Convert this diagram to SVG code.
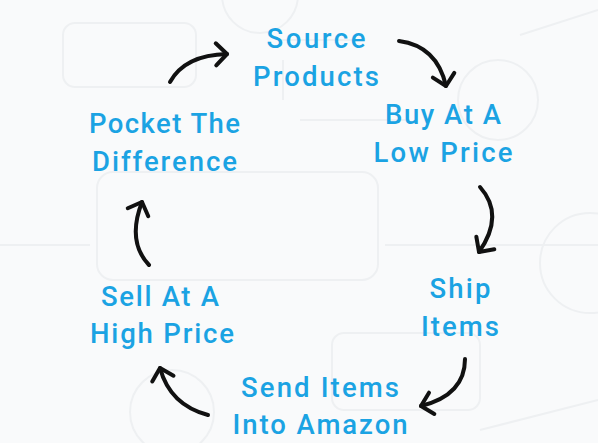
<svg xmlns="http://www.w3.org/2000/svg" width="598" height="443" viewBox="0 0 598 443">
<style>
.bgs{fill:none;stroke:#eef0f2;stroke-width:2}
.lbl{font-family:Roboto,"Liberation Sans",sans-serif;font-weight:500;font-size:27.5px;fill:#1ba3e3;text-anchor:middle}
.arr{fill:none;stroke:#111;stroke-width:4;stroke-linecap:round;stroke-linejoin:round}
</style>
<defs>
<marker id="chev" markerUnits="userSpaceOnUse" markerWidth="40" markerHeight="40" refX="20" refY="20" orient="auto" overflow="visible">
<path d="M9,9 L20,20 L9,31" fill="none" stroke="#111" stroke-width="4" stroke-linecap="round" stroke-linejoin="round"/>
</marker>
</defs>
<rect width="598" height="443" fill="#f9fafb"/>
<g id="background">
<rect class="bgs" x="63" y="23" width="133" height="64" rx="12"/>
<rect class="bgs" x="97" y="172" width="281" height="108" rx="16"/>
<rect class="bgs" x="332" y="333" width="148" height="77" rx="12"/>
<circle class="bgs" cx="260" cy="-5" r="38"/>
<circle class="bgs" cx="498" cy="100" r="40"/>
<circle class="bgs" cx="590" cy="263" r="50"/>
<circle class="bgs" cx="172" cy="412" r="42"/>
<path class="bgs" d="M280,40 H360 M300,120 H410 M0,245 H90 M385,245 H598 M283,60 V100 M520,35 L598,10 M480,430 L598,400"/>
</g>
<g id="connectors">
<path class="arr" d="M170,82 Q185,55 227,54" marker-end="url(#chev)"/>
<path class="arr" d="M399,41 Q437,46 446,86" marker-end="url(#chev)"/>
<path class="arr" d="M480,187 Q505,215 479,252" marker-end="url(#chev)"/>
<path class="arr" d="M465,359 Q465,395 421,406" marker-end="url(#chev)"/>
<path class="arr" d="M208,415 Q170,405 160,368" marker-end="url(#chev)"/>
<path class="arr" d="M149,265 C130,245 135,220 142,202" marker-end="url(#chev)"/>
</g>
<g id="source-products">
<text class="lbl" x="316" y="48" textLength="99" lengthAdjust="spacing">Source</text>
<text class="lbl" x="316" y="86" textLength="126" lengthAdjust="spacing">Products</text>
</g>
<g id="buy-low">
<text class="lbl" x="443" y="124" textLength="116" lengthAdjust="spacing">Buy At A</text>
<text class="lbl" x="443" y="162" textLength="139" lengthAdjust="spacing">Low Price</text>
</g>
<g id="ship-items">
<text class="lbl" x="460" y="298" textLength="61" lengthAdjust="spacing">Ship</text>
<text class="lbl" x="460" y="336" textLength="78" lengthAdjust="spacing">Items</text>
</g>
<g id="send-amazon">
<text class="lbl" x="320" y="397" textLength="158" lengthAdjust="spacing">Send Items</text>
<text class="lbl" x="320" y="434" textLength="175" lengthAdjust="spacing">Into Amazon</text>
</g>
<g id="sell-high">
<text class="lbl" x="160" y="306" textLength="118" lengthAdjust="spacing">Sell At A</text>
<text class="lbl" x="162" y="343" textLength="144" lengthAdjust="spacing">High Price</text>
</g>
<g id="pocket-difference">
<text class="lbl" x="164.5" y="133" textLength="151" lengthAdjust="spacing">Pocket The</text>
<text class="lbl" x="164.5" y="171" textLength="145" lengthAdjust="spacing">Difference</text>
</g>
</svg>
